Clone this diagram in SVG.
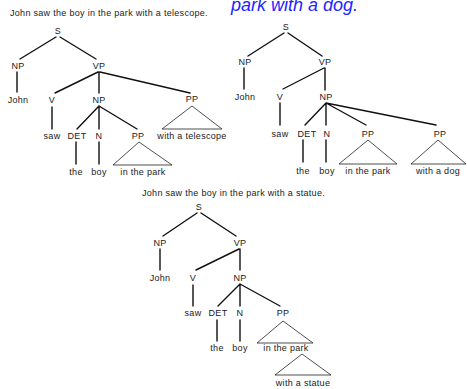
<svg xmlns="http://www.w3.org/2000/svg" width="467" height="389" viewBox="0 0 467 389">
<style>
text{font-family:"Liberation Sans",Arial,sans-serif;font-size:9px;fill:#1a1a1a;text-anchor:middle;letter-spacing:0.3px}
.title{text-anchor:start}
.blue{font-size:18px;font-style:italic;fill:#2424ff;letter-spacing:0;text-anchor:start}
.br{stroke:#111;stroke-width:1.4;fill:none;stroke-linecap:round}
.tri{stroke:#222;stroke-width:0.8;fill:none}
</style>
<rect width="467" height="389" fill="#fff"/>
<g id="connectors">
<!-- tree 1 -->
<path class="br" d="M56,37L20,59M60,37L96,59M17,72L17,92M98,72L55,93M99,72L99,93M100,72L190,93M52,107L52,129M99,106L77,129M99,106L99,129M99,106L137,129M76,142L76,164M99,142L99,164"/>
<path class="tri" d="M192,106L162,129L222,129ZM139,142L113,165L172,165Z"/>
<!-- tree 2 -->
<path class="br" d="M284,33L248,56M288,33L322,56M244,68L244,89M324,68L283,89M325,68L325,90M280,103L280,125M326,103L305,125M326,103L326,125M326,103L366,125M326,103L436,125M303,140L303,162M326,140L326,162"/>
<path class="tri" d="M368,140L339,164L397,164ZM438,140L411,164L466,164Z"/>
<!-- tree 3 -->
<path class="br" d="M197,213L163,236M201,213L236,236M160,249L160,270M239,249L196,270M240,249L240,270M193,285L193,306M240,284L218,306M240,284L240,306M240,284L280,306M217,320L217,341M240,320L240,341"/>
<path class="tri" d="M283,321L257,343L313,343ZM302,354L275,375L331,375Z"/>
</g>
<g id="titles">
<text class="title" x="10" y="16">John saw the boy in the park with a telescope.</text>
<text class="blue" x="231" y="11">park with a dog.</text>
<text class="title" x="142" y="196">John saw the boy in the park with a statue.</text>
</g>
<g id="tree1">
<g id="t1-S"><text x="58" y="34">S</text></g>
<g id="t1-NP"><text x="18" y="69">NP</text></g>
<g id="t1-VP"><text x="99" y="69">VP</text></g>
<g id="t1-John"><text x="18" y="103">John</text></g>
<g id="t1-V"><text x="52" y="103">V</text></g>
<g id="t1-NP2"><text x="99" y="103">NP</text></g>
<g id="t1-PP1"><text x="192" y="102">PP</text></g>
<g id="t1-saw"><text x="52" y="139">saw</text></g>
<g id="t1-DET"><text x="77" y="139">DET</text></g>
<g id="t1-N"><text x="99" y="139">N</text></g>
<g id="t1-PP2"><text x="138" y="139">PP</text></g>
<g id="t1-tele"><text x="192" y="139">with a telescope</text></g>
<g id="t1-the"><text x="76" y="175">the</text></g>
<g id="t1-boy"><text x="99" y="175">boy</text></g>
<g id="t1-park"><text x="143" y="175">in the park</text></g>
</g>
<g id="tree2">
<g id="t2-S"><text x="286" y="30">S</text></g>
<g id="t2-NP"><text x="245" y="65">NP</text></g>
<g id="t2-VP"><text x="325" y="65">VP</text></g>
<g id="t2-John"><text x="245" y="100">John</text></g>
<g id="t2-V"><text x="280" y="100">V</text></g>
<g id="t2-NP2"><text x="326" y="100">NP</text></g>
<g id="t2-saw"><text x="280" y="137">saw</text></g>
<g id="t2-DET"><text x="307" y="137">DET</text></g>
<g id="t2-N"><text x="327" y="137">N</text></g>
<g id="t2-PP1"><text x="368" y="137">PP</text></g>
<g id="t2-PP2"><text x="440" y="137">PP</text></g>
<g id="t2-the"><text x="303" y="174">the</text></g>
<g id="t2-boy"><text x="327" y="174">boy</text></g>
<g id="t2-park"><text x="368" y="174">in the park</text></g>
<g id="t2-dog"><text x="438" y="174">with a dog</text></g>
</g>
<g id="tree3">
<g id="t3-S"><text x="199" y="210">S</text></g>
<g id="t3-NP"><text x="160" y="246">NP</text></g>
<g id="t3-VP"><text x="240" y="246">VP</text></g>
<g id="t3-John"><text x="160" y="281">John</text></g>
<g id="t3-V"><text x="193" y="281">V</text></g>
<g id="t3-NP2"><text x="240" y="281">NP</text></g>
<g id="t3-saw"><text x="193" y="316">saw</text></g>
<g id="t3-DET"><text x="218" y="316">DET</text></g>
<g id="t3-N"><text x="240" y="316">N</text></g>
<g id="t3-PP"><text x="283" y="316">PP</text></g>
<g id="t3-the"><text x="217" y="351">the</text></g>
<g id="t3-boy"><text x="240" y="351">boy</text></g>
<g id="t3-park"><text x="286" y="351">in the park</text></g>
<g id="t3-statue"><text x="303" y="386">with a statue</text></g>
</g>
</svg>
